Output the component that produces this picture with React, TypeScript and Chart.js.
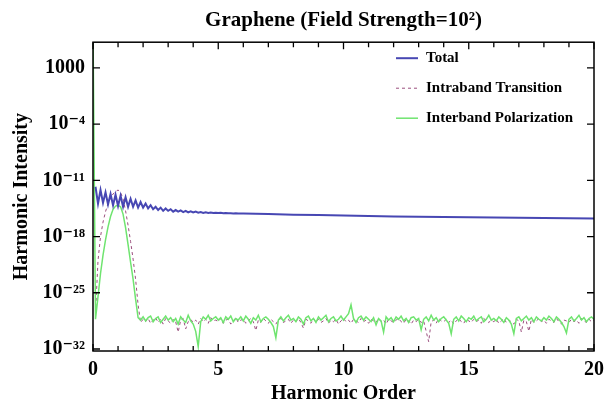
import React, { useEffect, useRef } from "react";
import { Chart, registerables } from "chart.js";

Chart.register(...registerables);

const TITLE = "Graphene (Field Strength=10²)";
const X_LABEL = "Harmonic Order";
const Y_LABEL = "Harmonic Intensity";
const SERIES_NAMES = ["Total", "Intraband Transition", "Interband Polarization"];
const X_TICKS = [0, 5, 10, 15, 20];
const X_MINOR_TICKS = [0, 1, 2, 3, 4, 5, 6, 7, 8, 9, 10, 11, 12, 13, 14, 15, 16, 17, 18, 19, 20];
const Y_TICK_EXPONENTS = [3, -4, -11, -18, -25, -32];
const X_MIN = 0;
const X_MAX = 20;
const Y_MIN_EXP = -32.25;
const Y_MAX_EXP = 6.2;

// harmonic order grid (category positions), 0 .. 20 in steps of 0.1
const HARMONIC_ORDER: number[] = Array.from({ length: 201 }, (_, i) => i / 10);

// log10 of intensity
// Total, x = 0.1 .. 5.9 on the grid
const TOTAL_HEAD_LOG = [
  -11.8, -13.9, -12.2, -13.8, -12.5, -14.0, -12.7, -14.1, -12.8,
  -14.2, -12.9, -14.3, -13.1, -14.3, -13.3, -14.3, -13.5, -14.4, -13.7,
  -14.4, -13.9, -14.5, -14.1, -14.6, -14.3, -14.7, -14.4, -14.8, -14.5,
  -14.8, -14.6, -14.9, -14.7, -14.9, -14.75, -14.95, -14.8, -15.0, -14.85,
  -15.0, -14.9, -15.02, -14.95, -15.05, -14.98, -15.06, -15.0, -15.07, -15.03,
  -15.08, -15.05, -15.1, -15.07, -15.11, -15.09, -15.12, -15.11, -15.13, -15.12,
];
const TOTAL_TAIL_X = [6, 7, 8, 9, 10, 11, 12, 13, 14, 15, 16, 17, 18, 19, 20];
const TOTAL_TAIL_LOG = [
  -15.13, -15.2, -15.27, -15.33, -15.39, -15.44, -15.49, -15.53, -15.57, -15.61,
  -15.64, -15.67, -15.7, -15.72, -15.74,
];

// Intraband, x = 0 .. 20 on the grid
const INTRABAND_LOG: (number | null)[] = [
  null, -27.5, -21.0, -18.0, -16.2, -14.9, -13.9, -13.2, -12.7, -12.4,
  -12.2, -12.5, -13.3, -14.8, -16.6, -18.6, -20.8, -23.3, -26.5, -28.7,
  -28.3, -28.6, -28.2, -28.8, -28.4, -28.1, -28.7, -28.3, -28.9, -28.2,
  -28.5, -28.8, -28.3, -28.6, -29.9, -28.4, -28.2, -29.5, -28.6, -28.3,
  -28.7, -28.4, -28.9, -28.2, -28.6, -28.3, -28.8, -28.1, -28.5, -28.4,
  -28.6, -28.2, -28.8, -28.4, -28.3, -28.9, -28.5, -28.1, -28.7, -28.4,
  -28.3, -28.8, -28.5, -28.2, -28.6, -29.7, -28.4, -28.7, -28.2, -28.5,
  -28.8, -28.3, -28.6, -28.9, -28.4, -28.2, -28.7, -28.5, -28.3, -28.8,
  -28.4, -28.6, -28.2, -28.7, -29.4, -28.3, -28.5, -28.8, -28.2, -28.6,
  -28.3, -28.7, -28.5, -28.2, -28.8, -28.4, -28.6, -28.3, -28.9, -28.5,
  -28.2, -28.6, -28.4, -28.8, -28.3, -28.5, -28.7, -28.2, -28.6, -28.4,
  -28.8, -28.3, -28.5, -28.7, -28.2, -28.6, -28.4, -28.9, -28.3, -28.5,
  -28.7, -28.4, -28.2, -28.6, -28.8, -28.3, -28.5, -28.9, -28.4, -28.6,
  -28.3, -28.7, -28.5, -29.8, -31.1, -28.6, -28.4, -28.8, -28.2, -28.5,
  -28.6, -28.3, -28.7, -28.4, -28.9, -28.5, -28.2, -28.6, -28.8, -28.3,
  -28.5, -28.7, -28.3, -28.6, -28.4, -28.8, -28.2, -28.5, -28.7, -28.4,
  -28.6, -28.3, -28.8, -28.5, -28.2, -28.7, -28.4, -28.6, -28.9, -28.3,
  -28.5, -29.9, -28.4, -28.6, -29.8, -28.3, -28.7, -28.5, -28.2, -28.6,
  -28.4, -28.8, -28.3, -28.5, -28.7, -28.2, -28.6, -28.9, -28.4, -28.5,
  -28.7, -28.3, -28.6, -28.4, -28.8, -28.2, -28.5, -28.7, -28.3, -28.6,
  -28.4,
];

// Interband, x = 0 .. 20 on the grid
const INTERBAND_LOG: number[] = [
  8.0, -28.3, -25.5, -22.6, -20.3, -18.4, -16.8, -15.5, -14.6, -14.2,
  -14.1, -14.3, -15.2, -16.9, -19.0, -21.2, -23.3, -25.8, -28.1, -28.4,
  -28.0, -28.5, -28.1, -27.9, -28.6, -28.2, -28.0, -28.7, -28.3, -27.9,
  -28.4, -28.1, -28.6, -28.2, -28.9, -28.0, -28.4, -28.7, -27.8, -28.5,
  -28.9, -29.8, -31.7, -28.6, -28.0, -28.3, -27.8, -28.5, -28.2, -28.0,
  -28.4, -28.1, -28.7, -28.0, -28.3, -27.9, -28.6, -28.2, -28.4, -28.0,
  -28.5, -27.9, -28.3, -28.8, -28.1, -28.4, -27.8, -28.6, -28.2, -28.0,
  -28.3, -28.7, -29.2, -30.6, -28.4, -28.0, -28.5, -28.1, -27.8, -28.4,
  -28.2, -28.6, -28.0, -28.3, -28.9, -28.1, -27.9, -28.5, -28.2, -28.7,
  -28.0, -28.4, -28.1, -27.8, -28.6, -28.2, -28.0, -28.5, -28.3, -27.9,
  -28.4, -28.0, -27.6, -26.5, -28.2, -28.7, -28.1, -27.9, -28.4, -28.0,
  -28.3, -28.6, -28.1, -29.0, -28.2, -28.5, -29.9, -28.0, -28.4, -28.1,
  -28.6, -28.0, -28.3, -27.9, -28.5, -28.2, -28.7, -28.1, -28.0, -28.4,
  -28.2, -29.6, -28.3, -28.0, -28.5, -27.8, -28.4, -28.1, -28.6, -28.2,
  -28.0, -28.4, -28.8, -30.1, -28.3, -28.0, -28.5, -27.9, -28.2, -28.6,
  -28.1, -28.3, -27.9, -28.5, -28.2, -28.0, -28.6, -28.3, -27.8, -28.4,
  -28.2, -28.5, -28.0, -28.3, -28.7, -28.1, -28.4, -28.9, -30.1, -28.2,
  -28.0, -28.5, -28.2, -27.9, -28.4, -28.1, -28.6, -28.0, -28.3, -28.5,
  -28.1, -28.4, -27.9, -28.2, -28.6, -28.0, -28.3, -28.7, -29.2, -30.0,
  -28.3, -28.0, -28.5, -28.2, -27.8, -28.4, -28.1, -28.6, -28.2, -28.0,
  -28.3,
];

const COLORS = { total: "#4747b3", intraband: "#9b4f7e", interband: "#6fe46f" };
const FONT_FAMILY = "'Liberation Serif', 'DejaVu Serif', serif";

const SUP: Record<string, string> = {
  "-": "⁻", "0": "⁰", "1": "¹", "2": "²", "3": "³", "4": "⁴",
  "5": "⁵", "6": "⁶", "7": "⁷", "8": "⁸", "9": "⁹",
};

function formatPow(v: number): string {
  const e = Math.round(Math.log10(v));
  if (e === 3) return "1000";
  return "10" + String(e).split("").map((c) => SUP[c] || c).join("");
}

const toPoints = (xs: number[], logs: (number | null)[]) =>
  xs.map((x, i) => ({ x, y: logs[i] == null ? null : Math.pow(10, logs[i] as number) }));

const framePlugin = {
  id: "mmaFrame",
  afterDatasetsDraw(chart: any) {
    const { ctx, chartArea: a, scales } = chart;
    const xs = scales.x;
    const ys = scales.y;
    ctx.save();
    ctx.strokeStyle = "#000";
    ctx.lineWidth = 1.5;
    ctx.strokeRect(a.left, a.top, a.right - a.left, a.bottom - a.top);
    ctx.lineWidth = 1.3;
    ctx.beginPath();
    for (const v of X_MINOR_TICKS) {
      const px = xs.getPixelForValue(v);
      const len = X_TICKS.includes(v) ? 7 : 5;
      ctx.moveTo(px, a.bottom);
      ctx.lineTo(px, a.bottom - len);
      ctx.moveTo(px, a.top);
      ctx.lineTo(px, a.top + len);
    }
    for (const e of Y_TICK_EXPONENTS) {
      const py = ys.getPixelForValue(Math.pow(10, e));
      ctx.moveTo(a.left, py);
      ctx.lineTo(a.left + 7, py);
      ctx.moveTo(a.right, py);
      ctx.lineTo(a.right - 7, py);
    }
    ctx.stroke();
    ctx.restore();
  },
};

const legendPlugin = {
  id: "insetLegend",
  afterDraw(chart: any) {
    const { ctx, chartArea: a } = chart;
    const rowsY = [a.top + 16, a.top + 46, a.top + 76];
    const x1 = a.right - 198;
    const x2 = a.right - 176;
    const tx = a.right - 168;
    ctx.save();
    chart.data.datasets.forEach((ds: any, i: number) => {
      const y = rowsY[i];
      ctx.beginPath();
      ctx.strokeStyle = ds.borderColor;
      ctx.lineWidth = ds.borderWidth;
      ctx.setLineDash(ds.borderDash || []);
      ctx.moveTo(x1, y);
      ctx.lineTo(x2, y);
      ctx.stroke();
      ctx.setLineDash([]);
      ctx.fillStyle = "#000";
      ctx.font = `bold 15px ${FONT_FAMILY}`;
      ctx.textBaseline = "middle";
      ctx.textAlign = "left";
      ctx.fillText(ds.label, tx, y);
    });
    ctx.restore();
  },
};

export default function App() {
  const ref = useRef<HTMLCanvasElement>(null);

  useEffect(() => {
    if (!ref.current) return;
    Chart.defaults.font.family = FONT_FAMILY;
    const totalPoints = [
      ...toPoints(HARMONIC_ORDER.slice(1, 1 + TOTAL_HEAD_LOG.length), TOTAL_HEAD_LOG),
      ...toPoints(TOTAL_TAIL_X, TOTAL_TAIL_LOG),
    ];
    const chart = new Chart(ref.current, {
      type: "line",
      data: {
        datasets: [
          {
            label: SERIES_NAMES[0],
            data: totalPoints,
            borderColor: COLORS.total,
            borderWidth: 2,
            pointRadius: 0,
            order: 0,
          },
          {
            label: SERIES_NAMES[1],
            data: toPoints(HARMONIC_ORDER, INTRABAND_LOG),
            borderColor: COLORS.intraband,
            borderWidth: 1,
            borderDash: [3, 3],
            pointRadius: 0,
            order: 2,
          },
          {
            label: SERIES_NAMES[2],
            data: toPoints(HARMONIC_ORDER, INTERBAND_LOG),
            borderColor: COLORS.interband,
            borderWidth: 1.5,
            pointRadius: 0,
            order: 1,
          },
        ] as any,
      },
      options: {
        animation: false,
        responsive: false,
        layout: { padding: { left: 0, right: 16, top: 0, bottom: 0 } },
        plugins: {
          legend: { display: false },
          tooltip: { enabled: false },
          title: {
            display: true,
            text: TITLE,
            fullSize: false,
            color: "#000",
            font: { size: 21, weight: "bold", family: FONT_FAMILY },
            padding: { top: 8, bottom: 9 },
          },
        },
        scales: {
          x: {
            type: "linear",
            min: X_MIN,
            max: X_MAX,
            afterFit: (s: any) => {
              s.height = 56;
            },
            afterBuildTicks: (s: any) => {
              s.ticks = X_TICKS.map((v) => ({ value: v }));
            },
            grid: { display: false, drawTicks: false },
            border: { display: false },
            ticks: {
              autoSkip: false,
              maxRotation: 0,
              padding: 7,
              color: "#000",
              font: { size: 20, weight: "bold" },
              callback: (v: any) => String(v),
            },
            title: {
              display: true,
              text: X_LABEL,
              color: "#000",
              font: { size: 20, weight: "bold" },
              padding: { top: 0, bottom: 1 },
            },
          },
          y: {
            type: "logarithmic",
            min: Math.pow(10, Y_MIN_EXP),
            max: Math.pow(10, Y_MAX_EXP),
            afterFit: (s: any) => {
              s.width = 93;
            },
            afterBuildTicks: (s: any) => {
              s.ticks = Y_TICK_EXPONENTS.map((e) => ({ value: Math.pow(10, e) }));
            },
            grid: { display: false, drawTicks: false },
            border: { display: false },
            ticks: {
              autoSkip: false,
              padding: 8,
              color: "#000",
              font: { size: 20, weight: "bold" },
              callback: (v: any) => formatPow(Number(v)),
            },
            title: {
              display: true,
              text: Y_LABEL,
              color: "#000",
              font: { size: 20, weight: "bold" },
              padding: { top: 10, bottom: 0 },
            },
          },
        },
      } as any,
      plugins: [framePlugin, legendPlugin],
    });
    return () => chart.destroy();
  }, []);

  return (
    <div style={{ position: "absolute", left: 0, top: 0, width: 611, height: 407, background: "#fff" }}>
      <canvas ref={ref} width={611} height={407} style={{ display: "block" }} />
    </div>
  );
}
